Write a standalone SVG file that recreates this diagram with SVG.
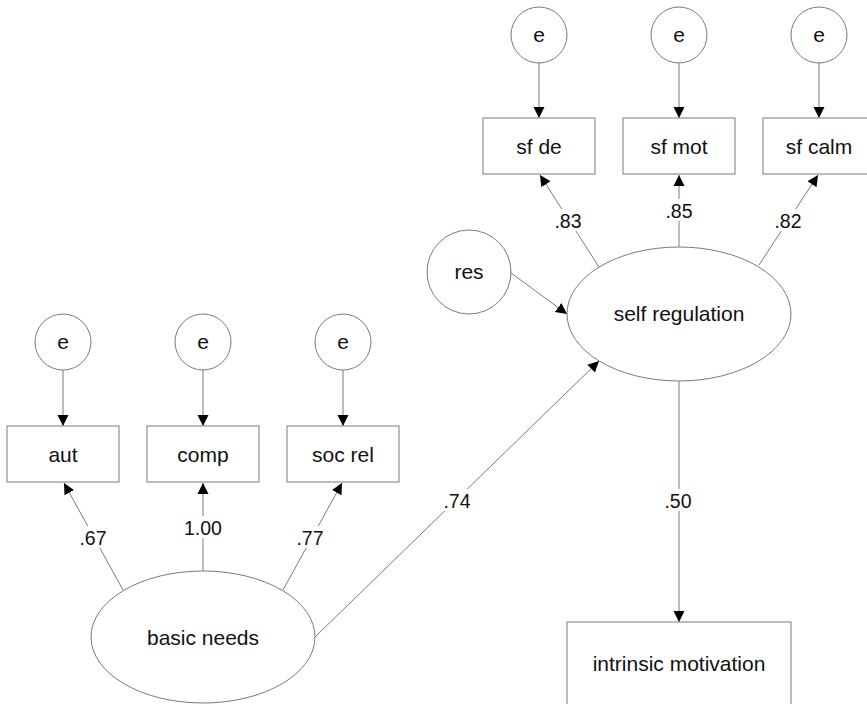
<svg xmlns="http://www.w3.org/2000/svg" width="867" height="704" viewBox="0 0 867 704">
<defs>
<marker id="ah" markerUnits="userSpaceOnUse" markerWidth="12" markerHeight="12" viewBox="0 0 12 12" refX="11" refY="6" orient="auto">
<path d="M0,0.5 L11,6 L0,11.5 z" fill="#000"/>
</marker>
<style>
.shp{fill:#fff;stroke:#7a7a7a;stroke-width:1}
.ln{stroke:#7a7a7a;stroke-width:1;fill:none;marker-end:url(#ah)}
.t{font-family:"Liberation Sans",Arial,sans-serif;font-size:21px;fill:#111;text-anchor:middle;dominant-baseline:central}
.lb{font-family:"Liberation Sans",Arial,sans-serif;font-size:19.5px;fill:#111;text-anchor:middle;dominant-baseline:central}
.bg{fill:#fff}
</style>
</defs>
<rect width="867" height="704" fill="#fff"/>
<g id="connectors">
<line class="ln" x1="539" y1="63" x2="539" y2="118"/>
<line class="ln" x1="679" y1="63" x2="679" y2="118"/>
<line class="ln" x1="819" y1="63" x2="819" y2="118"/>
<line class="ln" x1="63" y1="370" x2="63" y2="426"/>
<line class="ln" x1="203" y1="370" x2="203" y2="426"/>
<line class="ln" x1="343" y1="370" x2="343" y2="426"/>
<line class="ln" x1="599" y1="267" x2="540" y2="175"/>
<line class="ln" x1="679" y1="247" x2="679" y2="175"/>
<line class="ln" x1="759" y1="265" x2="818" y2="175"/>
<line class="ln" x1="123" y1="590" x2="64" y2="483"/>
<line class="ln" x1="203" y1="571" x2="203" y2="483"/>
<line class="ln" x1="283" y1="590" x2="342" y2="483"/>
<line class="ln" x1="511" y1="273" x2="567" y2="314"/>
<line class="ln" x1="315" y1="637" x2="599" y2="361"/>
<line class="ln" x1="679" y1="381" x2="679" y2="622"/>
<rect class="bg" x="553" y="209" width="30" height="22"/>
<rect class="bg" x="664" y="199" width="30" height="22"/>
<rect class="bg" x="773" y="209" width="30" height="22"/>
<rect class="bg" x="78" y="526" width="30" height="22"/>
<rect class="bg" x="183" y="516" width="40" height="22"/>
<rect class="bg" x="295" y="526" width="30" height="22"/>
<rect class="bg" x="442" y="489" width="30" height="22"/>
<rect class="bg" x="663" y="489" width="30" height="22"/>
<text class="lb" x="568" y="221">.83</text>
<text class="lb" x="679" y="211">.85</text>
<text class="lb" x="788" y="221">.82</text>
<text class="lb" x="93" y="538">.67</text>
<text class="lb" x="203" y="528">1.00</text>
<text class="lb" x="310" y="538">.77</text>
<text class="lb" x="457" y="501">.74</text>
<text class="lb" x="678" y="501">.50</text>
</g>
<g id="e1"><circle class="shp" cx="539" cy="35" r="28"/><text class="t" x="539" y="34">e</text></g>
<g id="e2"><circle class="shp" cx="679" cy="35" r="28"/><text class="t" x="679" y="34">e</text></g>
<g id="e3"><circle class="shp" cx="819" cy="35" r="28"/><text class="t" x="819" y="34">e</text></g>
<g id="sfde"><rect class="shp" x="483" y="118" width="112" height="56"/><text class="t" x="539" y="146">sf de</text></g>
<g id="sfmot"><rect class="shp" x="623" y="118" width="112" height="56"/><text class="t" x="679" y="146">sf mot</text></g>
<g id="sfcalm"><rect class="shp" x="763" y="118" width="112" height="56"/><text class="t" x="819" y="146">sf calm</text></g>
<g id="res"><circle class="shp" cx="469" cy="272" r="42"/><text class="t" x="469" y="271">res</text></g>
<g id="selfreg"><ellipse class="shp" cx="679" cy="314" rx="112" ry="67"/><text class="t" x="679" y="313">self regulation</text></g>
<g id="e4"><circle class="shp" cx="63" cy="342" r="28"/><text class="t" x="63" y="341">e</text></g>
<g id="e5"><circle class="shp" cx="203" cy="342" r="28"/><text class="t" x="203" y="341">e</text></g>
<g id="e6"><circle class="shp" cx="343" cy="342" r="28"/><text class="t" x="343" y="341">e</text></g>
<g id="aut"><rect class="shp" x="7" y="426" width="112" height="56"/><text class="t" x="63" y="454">aut</text></g>
<g id="comp"><rect class="shp" x="147" y="426" width="112" height="56"/><text class="t" x="203" y="454">comp</text></g>
<g id="socrel"><rect class="shp" x="287" y="426" width="112" height="56"/><text class="t" x="343" y="454">soc rel</text></g>
<g id="basic"><ellipse class="shp" cx="203" cy="637" rx="112" ry="66"/><text class="t" x="203" y="637">basic needs</text></g>
<g id="intrinsic"><rect class="shp" x="567" y="622" width="224" height="90"/><text class="t" x="679" y="663">intrinsic motivation</text></g>
</svg>
